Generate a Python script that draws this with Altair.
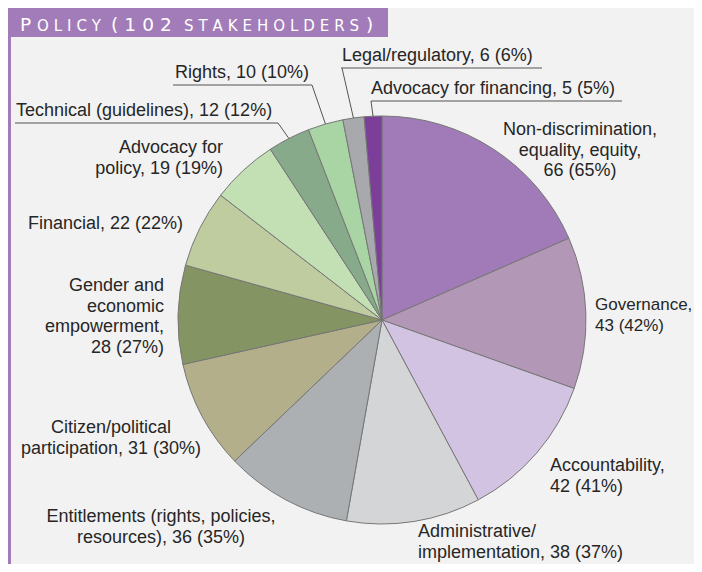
import math
import altair as alt
import pandas as pd

# ---------------- data ----------------
categories = [
    "Non-discrimination, equality, equity",
    "Governance",
    "Accountability",
    "Administrative/implementation",
    "Entitlements (rights, policies, resources)",
    "Citizen/political participation",
    "Gender and economic empowerment",
    "Financial",
    "Advocacy for policy",
    "Technical (guidelines)",
    "Rights",
    "Legal/regulatory",
    "Advocacy for financing",
]
counts = [66, 43, 42, 38, 36, 31, 28, 22, 19, 12, 10, 6, 5]
percents = [65, 42, 41, 37, 35, 30, 27, 22, 19, 12, 10, 6, 5]
label_templates = [
    ["Non-discrimination,", "equality, equity,", "{n} ({p}%)"],
    ["Governance,", "{n} ({p}%)"],
    ["Accountability,", "{n} ({p}%)"],
    ["Administrative/", "implementation, {n} ({p}%)"],
    ["Entitlements (rights, policies,", "resources), {n} ({p}%)"],
    ["Citizen/political", "participation, {n} ({p}%)"],
    ["Gender and", "economic", "empowerment,", "{n} ({p}%)"],
    ["Financial, {n} ({p}%)"],
    ["Advocacy for", "policy, {n} ({p}%)"],
    ["Technical (guidelines), {n} ({p}%)"],
    ["Rights, {n} ({p}%)"],
    ["Legal/regulatory, {n} ({p}%)"],
    ["Advocacy for financing, {n} ({p}%)"],
]
SP = "\u2004"
title_parts = ["P", SP.join("OLICY"), SP.join("(102"), SP.join("STAKEHOLDERS"), ")"]

# ---------------- styles / layout ----------------
colors = ["#a07bb7", "#b397b6", "#d3c3e2", "#d4d5d6", "#adb0b2", "#b3af8b",
          "#849462", "#bfcc9f", "#c3e0b5", "#87aa8b", "#a8d5a3", "#a8a9ad", "#7b3f99"]
PURPLE = "#a27cb9"
W, H = 686, 556
CX, CY, R = 374, 312, 204
FONT = "Liberation Sans"
FS = 18
LINE_H = 20.5
label_x = [572, 587, 542, 410, 153, 103, 156, 175, 215, 8, 167, 334, 363]
label_y = [122, 297, 458, 524, 509, 420, 278, 216, 140, 103, 65, 48, 81]
label_fs = [FS, 17, FS, FS, FS, FS, FS, FS, FS, FS, FS, FS, FS]
label_align = ["center", "left", "left", "left", "center", "center", "right",
               "right", "right", "left", "left", "left", "left"]
# underline: slice index -> (x0, x1, y, leader start x)
underlines = {9: (7, 270, 115, 270), 10: (165, 304, 77, 304),
              11: (333, 534, 60, 334), 12: (363, 614, 93, 363)}
title_x = [12, 29, 103, 176, 358]
title_fs = [18.5, 15, 18.5, 15, 18.5]
TITLE_BASE = 23

# ---------------- frames ----------------
pie_df = pd.DataFrame({"category": categories, "count": counts,
                       "order": list(range(len(categories)))})

rows = []
for i, tmpl in enumerate(label_templates):
    for j, line in enumerate(tmpl):
        rows.append({"text": line.format(n=counts[i], p=percents[i]),
                     "x": label_x[i], "y": label_y[i] + j * LINE_H,
                     "fs": label_fs[i], "align": label_align[i]})
lab_df = pd.DataFrame(rows)

total = sum(counts)
cum = 0
mids = []
for c in counts:
    mids.append(2 * math.pi * (cum + c / 2) / total)
    cum += c
rule_rows = []
for i, (x0, x1, yy, lx) in underlines.items():
    rule_rows.append({"x": x0, "y": yy, "x2": x1, "y2": yy})
    ex = CX + R * math.sin(mids[i])
    ey = CY - R * math.cos(mids[i])
    rule_rows.append({"x": lx, "y": yy, "x2": ex, "y2": ey})
rule_df = pd.DataFrame(rule_rows)

shadow_df = pd.DataFrame({"x": [CX + 4] * 10, "y": [CY + 5] * 10,
                          "s": [math.pi * (R + k) ** 2 for k in range(-1, 9)]})

rect_df = pd.DataFrame({"x": [0, 0], "x2": [3, 380], "y": [0, 0], "y2": [H, 29]})
title_df = pd.DataFrame({"text": title_parts, "x": title_x, "fs": title_fs,
                         "y": [TITLE_BASE] * len(title_parts)})


def X(f):
    return alt.X(f, type="quantitative", scale=None, axis=None)


def Y(f):
    return alt.Y(f, type="quantitative", scale=None, axis=None)


rects = alt.Chart(rect_df).mark_rect(color=PURPLE).encode(
    x=X("x"), x2="x2", y=Y("y"), y2="y2")

title = alt.Chart(title_df).mark_text(
    font="DejaVu Sans", color="white", align="left", baseline="alphabetic"
).encode(x=X("x"), y=Y("y"), text="text:N", size=alt.Size("fs:Q", scale=None))

shadow = alt.Chart(shadow_df).mark_circle(color="black", opacity=0.028).encode(
    x=X("x"), y=Y("y"), size=alt.Size("s:Q", scale=None))

pie = alt.Chart(pie_df).mark_arc(radius=R, stroke="#777777", strokeWidth=1).encode(
    theta=alt.Theta("count:Q", stack=True),
    order=alt.Order("order:Q"),
    color=alt.Color("category:N", scale=alt.Scale(domain=categories, range=colors), legend=None),
    x=alt.value(CX), y=alt.value(CY),
)

rules = alt.Chart(rule_df).mark_rule(color="#555555", strokeWidth=1).encode(
    x=X("x"), y=Y("y"), x2="x2", y2="y2")

text_layers = []
for a in ["left", "center", "right"]:
    sub = lab_df[lab_df["align"] == a]
    text_layers.append(
        alt.Chart(sub).mark_text(font=FONT, color="#262626",
                                 align=a, baseline="middle").encode(
            x=X("x"), y=Y("y"), text="text:N",
            size=alt.Size("fs:Q", scale=None)))

chart = alt.layer(rects, title, shadow, pie, rules, *text_layers).properties(
    width=W, height=H, background="#f2f2f2", padding=0, autosize="none"
).configure_view(stroke=None)

chart.save("out.html", embed_options={"renderer": "svg", "actions": False})
